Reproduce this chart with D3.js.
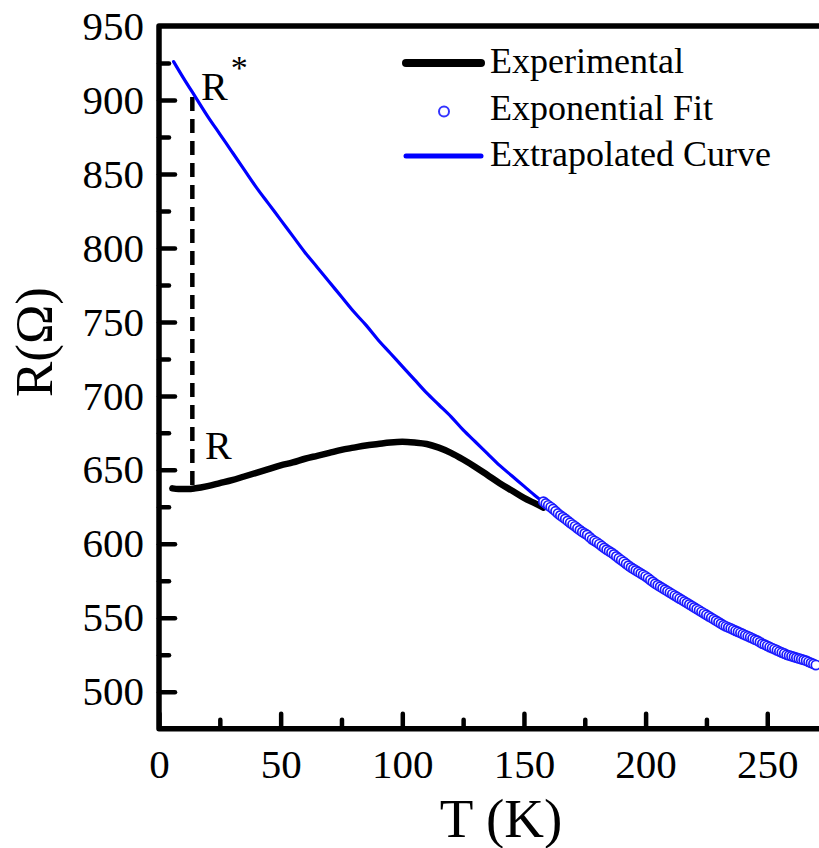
<!DOCTYPE html>
<html>
<head>
<meta charset="utf-8">
<script src="https://cdn.jsdelivr.net/npm/d3@7"></script>
<style>
  html, body { margin: 0; padding: 0; background: #fff; }
  svg { display: block; }
</style>
</head>
<body>
<svg id="chart" width="819" height="848"></svg>
<script>
// ---------- data ----------
const expT = [5.5, 8, 12, 15, 20, 25, 30, 35, 40, 45, 50, 55, 60, 65, 70, 75, 80, 85, 90, 95, 100, 105, 110, 115, 120, 125, 130, 135, 140, 145, 150, 155, 158];
const expR = [637.5, 637, 637, 637.5, 639, 641, 643, 645.5, 648, 650.5, 653, 655, 657.5, 659.5, 661.5, 663.5, 665, 666.5, 667.5, 668.5, 669, 668.5, 667.5, 665, 661.5, 657, 652, 646.5, 641, 636, 631, 627, 624.5];

const extT = [6, 10, 15, 20, 25, 30, 35, 40, 45, 50, 55, 60, 65, 70, 75, 80, 85, 90, 95, 100, 105, 110, 115, 120, 125, 130, 135, 140, 145, 150, 155, 160, 165, 170, 175, 180, 185, 190, 195, 200, 205, 210, 215, 220, 225, 230, 235, 240, 245, 250, 255, 260, 265, 270];
const extR = [926, 915, 902, 889, 877, 865, 853, 841, 830, 819, 808, 797, 787, 777, 767, 757, 748, 738, 729, 720, 711, 702, 694, 686, 677, 669, 661, 653, 646, 639, 632, 626, 619, 613, 607, 601, 595, 589, 583, 578, 572, 567, 562, 557, 552, 547, 543, 539, 535, 531, 527, 524, 521, 518];

const fitT = [158, 159, 160, 161, 162, 163, 164, 165, 166, 167, 168, 169, 170, 171, 172, 173, 174, 175, 176, 177, 178, 179, 180, 181, 182, 183, 184, 185, 186, 187, 188, 189, 190, 191, 192, 193, 194, 195, 196, 197, 198, 199, 200, 201, 202, 203, 204, 205, 206, 207, 208, 209, 210, 211, 212, 213, 214, 215, 216, 217, 218, 219, 220, 221, 222, 223, 224, 225, 226, 227, 228, 229, 230, 231, 232, 233, 234, 235, 236, 237, 238, 239, 240, 241, 242, 243, 244, 245, 246, 247, 248, 249, 250, 251, 252, 253, 254, 255, 256, 257, 258, 259, 260, 261, 262, 263, 264, 265, 266, 267, 268, 269, 270];
const fitR = [628.5, 627.2, 626, 624.8, 623.5, 622, 620.5, 619.2, 618, 616.8, 615.5, 614.2, 613, 611.8, 610.5, 609.2, 608, 607, 606, 604.5, 603, 602, 601, 599.8, 598.5, 597.2, 596, 595, 594, 592.8, 591.5, 590.2, 589, 587.8, 586.5, 585.2, 584, 583, 582, 581, 580, 579, 578, 576.8, 575.5, 574.2, 573, 572, 571, 570, 569, 568, 567, 566, 565, 564, 563, 562, 561, 560, 559, 558, 557, 556, 555, 554, 553, 552, 551, 550, 549, 548, 547, 546, 545, 544.2, 543.5, 542.8, 542, 541.2, 540.5, 539.8, 539, 538.2, 537.5, 536.8, 536, 535.2, 534.5, 533.5, 532.5, 531.8, 531, 530.2, 529.5, 528.8, 528, 527.2, 526.5, 525.8, 525, 524.5, 524, 523.5, 523, 522.5, 522, 521.5, 521, 520.2, 519.5, 518.8, 518];

// dashed marker: temperature and the two resistances
const markT = 13.7;
const rStar = 902;
const rMeas = 637.5;

const xTicks = [0, 50, 100, 150, 200, 250];
const xMinor = [25, 75, 125, 175, 225];
const yTicks = [500, 550, 600, 650, 700, 750, 800, 850, 900, 950];
const yMinor = [525, 575, 625, 675, 725, 775, 825, 875, 925];

const legendLabels = ["Experimental", "Exponential Fit", "Extrapolated Curve"];
const xTitle = "T (K)";
const yTitle = "R(\u03A9)";

// ---------- layout ----------
const FONT = "'Liberation Serif', 'Times New Roman', Times, serif";
const svg = d3.select("#chart").attr("font-family", FONT);
const x = d3.scaleLinear().domain([0, 275]).range([159, 159 + 275 * 2.433]);
const y = d3.scaleLinear().domain([475, 950]).range([728.7, 26.1]);
const X0 = x(0), Y0 = y(475), YT = y(950), XR = x(275);

const blue = "#0000ff";

// ---------- data marks ----------
const expData = expT.map((t, i) => [t, expR[i]]);
const extData = extT.map((t, i) => [t, extR[i]]);
const fitData = fitT.map((t, i) => [t, fitR[i]]);

const line = d3.line().x(d => x(d[0])).y(d => y(d[1])).curve(d3.curveMonotoneX);

// dashed marker line
svg.append("line")
  .attr("x1", x(markT)).attr("x2", x(markT))
  .attr("y1", y(rStar)).attr("y2", y(rMeas))
  .attr("stroke", "#000").attr("stroke-width", 4.5)
  .attr("stroke-dasharray", "14,8");

svg.append("path").datum(expData).attr("d", line)
  .attr("fill", "none").attr("stroke", "#000").attr("stroke-width", 6.5)
  .attr("stroke-linecap", "round").attr("stroke-linejoin", "round");

svg.append("path").datum(extData).attr("d", line)
  .attr("fill", "none").attr("stroke", blue).attr("stroke-width", 3.2)
  .attr("stroke-linecap", "round");

svg.append("g").selectAll("circle").data(fitData).join("circle")
  .attr("cx", d => x(d[0])).attr("cy", d => y(d[1])).attr("r", 4.6)
  .attr("fill", "#fff").attr("stroke", "#1a1aff").attr("stroke-width", 1.7);

// ---------- axes ----------
function styleAxis(g, w) {
  g.attr("font-family", FONT);
  g.select(".domain").remove();
  g.selectAll(".tick line").attr("stroke", "#000").attr("stroke-width", w).attr("stroke-linecap", "round");
  g.selectAll(".tick text").style("font-family", FONT).style("font-size", "41px").attr("fill", "#000");
}

const gx = svg.append("g").attr("transform", `translate(0,${Y0})`)
  .call(d3.axisBottom(x).tickValues(xTicks).tickSize(-15).tickPadding(20).tickFormat(d3.format("d")));
styleAxis(gx, 4.5);
const gxm = svg.append("g").attr("transform", `translate(0,${Y0})`)
  .call(d3.axisBottom(x).tickValues(xMinor).tickSize(-9).tickFormat(""));
styleAxis(gxm, 4.5);

const gy = svg.append("g").attr("transform", `translate(${X0},0)`)
  .call(d3.axisLeft(y).tickValues(yTicks).tickSize(-16).tickPadding(15).tickFormat(d3.format("d")));
styleAxis(gy, 4.5);
gy.selectAll(".tick text").attr("dy", "0.32em");
gy.selectAll(".tick").filter(d => d === 950).select("line").remove();
const gym = svg.append("g").attr("transform", `translate(${X0},0)`)
  .call(d3.axisLeft(y).tickValues(yMinor).tickSize(-10).tickFormat(""));
styleAxis(gym, 4.5);

// frame
svg.append("path")
  .attr("d", `M${XR},${YT} L${X0},${YT} L${X0},${Y0} L${XR},${Y0}`)
  .attr("fill", "none").attr("stroke", "#000").attr("stroke-width", 5.5)
  .attr("stroke-linejoin", "round").attr("stroke-linecap", "round");

// axis titles
svg.append("text").attr("x", 501).attr("y", 837).attr("text-anchor", "middle")
  .style("font-family", FONT).style("font-size", "55px").text(xTitle);
svg.append("text").attr("transform", "translate(51.5,342) rotate(-90)").attr("text-anchor", "middle")
  .style("font-family", FONT).style("font-size", "53px").text(yTitle);

// annotations
const rs = svg.append("text").attr("x", 201).attr("y", 100)
  .style("font-family", FONT).style("font-size", "40px");
rs.append("tspan").text("R");
rs.append("tspan").attr("dy", -21).attr("dx", 3).style("font-size", "34px").text("*");
svg.append("text").attr("x", 205).attr("y", 459)
  .style("font-family", FONT).style("font-size", "40px").text("R");

// legend
const legY = [73, 119.5, 166];
const lg = svg.append("g");
legendLabels.forEach((lab, i) => {
  lg.append("text").attr("x", 490).attr("y", legY[i])
    .style("font-family", FONT).style("font-size", "36px").text(lab);
});
lg.append("line").attr("x1", 406).attr("x2", 481).attr("y1", legY[0] - 10).attr("y2", legY[0] - 10)
  .attr("stroke", "#000").attr("stroke-width", 8).attr("stroke-linecap", "round");
lg.append("circle").attr("cx", 444).attr("cy", legY[1] - 8).attr("r", 5)
  .attr("fill", "#fff").attr("stroke", "#3333ff").attr("stroke-width", 2);
lg.append("line").attr("x1", 406).attr("x2", 481).attr("y1", legY[2] - 10).attr("y2", legY[2] - 10)
  .attr("stroke", blue).attr("stroke-width", 5).attr("stroke-linecap", "round");
</script>
</body>
</html>
